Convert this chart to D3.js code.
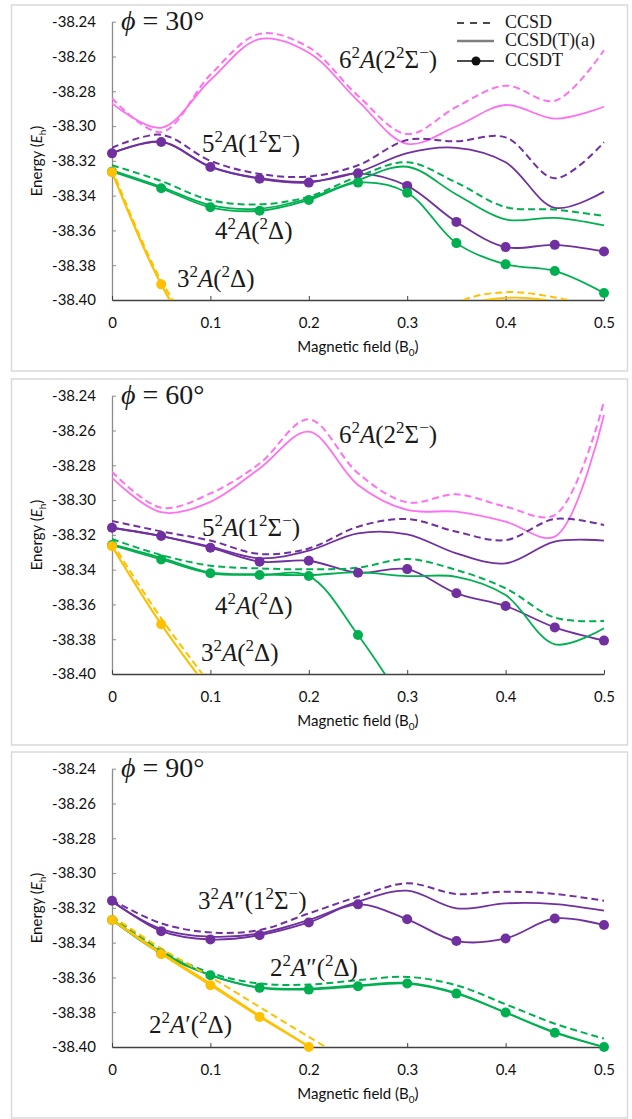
<!DOCTYPE html>
<html>
<head>
<meta charset="utf-8">
<script src="https://cdn.jsdelivr.net/npm/d3@7"></script>
<style>
  html, body { margin: 0; padding: 0; background: #fff; }
  svg { display: block; }
</style>
</head>
<body>
<div id="chart"></div>
<script>
// energy vs magnetic field, three field angles
const fields = [0, 0.05, 0.1, 0.15, 0.2, 0.25, 0.3, 0.35, 0.4, 0.45, 0.5];
const xTicks = [0, 0.1, 0.2, 0.3, 0.4, 0.5];
const yTicks = [-38.24, -38.26, -38.28, -38.30, -38.32, -38.34, -38.36, -38.38, -38.40];
const angles = ["30°", "60°", "90°"];
const methods = ["CCSD", "CCSD(T)(a)", "CCSDT"];

// phi = 30
const p30PinkCCSD   = [-38.2840, -38.3035, -38.2705, -38.2470, -38.2548, -38.2826, -38.3046, -38.2890, -38.2768, -38.2855, -38.2564];
const p30PinkT      = [-38.2870, -38.3010, -38.2735, -38.2500, -38.2578, -38.2855, -38.3102, -38.3001, -38.2879, -38.2957, -38.2889];
const p30PurpleCCSD = [-38.3125, -38.3050, -38.3200, -38.3275, -38.3290, -38.3225, -38.3080, -38.3088, -38.3065, -38.3300, -38.3093];
const p30PurpleT    = [-38.3155, -38.3090, -38.3233, -38.3300, -38.3320, -38.3265, -38.3155, -38.3125, -38.3208, -38.3470, -38.3377];
const p30PurpleTQ   = [-38.3157, -38.3092, -38.3235, -38.3303, -38.3325, -38.3272, -38.3344, -38.3551, -38.3696, -38.3683, -38.3721];
const p30GreenCCSD  = [-38.3225, -38.3316, -38.3426, -38.3450, -38.3406, -38.3290, -38.3208, -38.3325, -38.3466, -38.3480, -38.3517];
const p30GreenT     = [-38.3255, -38.3350, -38.3455, -38.3475, -38.3415, -38.3310, -38.3234, -38.3393, -38.3537, -38.3528, -38.3571];
const p30GreenTQ    = [-38.3262, -38.3358, -38.3467, -38.3487, -38.3425, -38.3325, -38.3383, -38.3673, -38.3795, -38.3833, -38.3960];
const p30GoldCCSD   = [-38.3245, -38.3890, -38.4300, null, null, null, -38.4300, -38.4020, -38.3955, -38.3985, -38.4050];
const p30GoldT      = [-38.3265, -38.3910, -38.4350, null, null, null, -38.4300, -38.4050, -38.3988, -38.4010, -38.4100];
const p30GoldTQ     = [-38.3265, -38.3910, -38.4400, null, null, null, null, null, null, null, null];

// phi = 60
const p60PinkCCSD   = [-38.2837, -38.3044, -38.2962, -38.2790, -38.2536, -38.2846, -38.3013, -38.2967, -38.3038, -38.3086, -38.2434];
const p60PinkT      = [-38.2872, -38.3070, -38.3010, -38.2818, -38.2607, -38.2913, -38.3057, -38.3067, -38.3124, -38.3210, -38.2511];
const p60PurpleCCSD = [-38.3120, -38.3180, -38.3233, -38.3310, -38.3278, -38.3153, -38.3109, -38.3182, -38.3230, -38.3109, -38.3143];
const p60PurpleT    = [-38.3159, -38.3207, -38.3268, -38.3335, -38.3291, -38.3191, -38.3197, -38.3306, -38.3364, -38.3239, -38.3233];
const p60PurpleTQ   = [-38.3159, -38.3207, -38.3274, -38.3354, -38.3349, -38.3418, -38.3397, -38.3536, -38.3609, -38.3732, -38.3808];
const p60GreenCCSD  = [-38.3224, -38.3316, -38.3377, -38.3393, -38.3398, -38.3389, -38.3339, -38.3402, -38.3507, -38.3676, -38.3695];
const p60GreenT     = [-38.3255, -38.3332, -38.3416, -38.3427, -38.3431, -38.3416, -38.3437, -38.3441, -38.3546, -38.3829, -38.3737];
const p60GreenTQ    = [-38.3258, -38.3341, -38.3421, -38.3431, -38.3437, -38.3776, -38.4200, null, null, null, null];
const p60GoldCCSD   = [-38.3245, -38.3680, -38.4060, null, null, null, null, null, null, null, null];
const p60GoldT      = [-38.3265, -38.3714, -38.4100, null, null, null, null, null, null, null, null];
const p60GoldTQ     = [-38.3265, -38.3714, -38.4100, null, null, null, null, null, null, null, null];

// phi = 90
const p90PurpleCCSD = [-38.3155, -38.3289, -38.3341, -38.3328, -38.3232, -38.3136, -38.3059, -38.3120, -38.3107, -38.3120, -38.3159];
const p90PurpleT    = [-38.3164, -38.3322, -38.3366, -38.3347, -38.3270, -38.3164, -38.3101, -38.3203, -38.3174, -38.3178, -38.3216];
const p90PurpleTQ   = [-38.3159, -38.3334, -38.3382, -38.3357, -38.3284, -38.3180, -38.3266, -38.3391, -38.3376, -38.3261, -38.3299];
const p90GreenCCSD  = [-38.3251, -38.3443, -38.3574, -38.3635, -38.3641, -38.3616, -38.3597, -38.3645, -38.3754, -38.3866, -38.3952];
const p90GreenT     = [-38.3266, -38.3453, -38.3587, -38.3658, -38.3664, -38.3645, -38.3631, -38.3689, -38.3802, -38.3914, -38.4000];
const p90GreenTQ    = [-38.3270, -38.3462, -38.3587, -38.3660, -38.3670, -38.3651, -38.3635, -38.3693, -38.3802, -38.3918, -38.4000];
const p90GoldCCSD   = [-38.3247, -38.3434, -38.3597, -38.3770, -38.3942, -38.4110, null, null, null, null, null];
const p90GoldT      = [-38.3265, -38.3458, -38.3635, -38.3820, -38.3995, -38.4180, null, null, null, null, null];
const p90GoldTQ     = [-38.3270, -38.3466, -38.3645, -38.3827, -38.4000, -38.4180, null, null, null, null, null];

// state labels, [text, "sup" | "it"] pieces
const labels30 = [
  [["6"], ["2", "sup"], ["A", "it"], ["(2"], ["2", "sup"], ["Σ"], ["−", "sup"], [")"]],
  [["5"], ["2", "sup"], ["A", "it"], ["(1"], ["2", "sup"], ["Σ"], ["−", "sup"], [")"]],
  [["4"], ["2", "sup"], ["A", "it"], ["("], ["2", "sup"], ["Δ"], [")"]],
  [["3"], ["2", "sup"], ["A", "it"], ["("], ["2", "sup"], ["Δ"], [")"]]
];
const labels90 = [
  [["3"], ["2", "sup"], ["A", "it"], ["″(1"], ["2", "sup"], ["Σ"], ["−", "sup"], [")"]],
  [["2"], ["2", "sup"], ["A", "it"], ["″("], ["2", "sup"], ["Δ"], [")"]],
  [["2"], ["2", "sup"], ["A", "it"], ["′("], ["2", "sup"], ["Δ"], [")"]]
];

const PINK = "#FF70F0", PURPLE = "#7030A0", GREEN = "#00B050", GOLD = "#FFC000";
const SANS = "Lato, 'Open Sans', sans-serif";
const SERIF = "'Liberation Serif', 'DejaVu Serif', serif";

const width = 632, height = 1119;
const panelTops = [5, 379, 752];
const panelH = 366;

const panels = [
  {
    angle: angles[0],
    series: [
      [PINK, p30PinkCCSD, p30PinkT, null],
      [PURPLE, p30PurpleCCSD, p30PurpleT, p30PurpleTQ],
      [GREEN, p30GreenCCSD, p30GreenT, p30GreenTQ],
      [GOLD, p30GoldCCSD, p30GoldT, p30GoldTQ]
    ],
    labels: [[labels30[0], 339, 63], [labels30[1], 202, 147], [labels30[2], 215, 234], [labels30[3], 177, 282]],
    legend: true
  },
  {
    angle: angles[1],
    series: [
      [PINK, p60PinkCCSD, p60PinkT, null],
      [PURPLE, p60PurpleCCSD, p60PurpleT, p60PurpleTQ],
      [GREEN, p60GreenCCSD, p60GreenT, p60GreenTQ],
      [GOLD, p60GoldCCSD, p60GoldT, p60GoldTQ]
    ],
    labels: [[labels30[0], 339, 64], [labels30[1], 202, 157], [labels30[2], 215, 235], [labels30[3], 201, 282]],
    legend: false
  },
  {
    angle: angles[2],
    series: [
      [PURPLE, p90PurpleCCSD, p90PurpleT, p90PurpleTQ],
      [GREEN, p90GreenCCSD, p90GreenT, p90GreenTQ],
      [GOLD, p90GoldCCSD, p90GoldT, p90GoldTQ]
    ],
    labels: [[labels90[0], 198, 157], [labels90[1], 270, 224], [labels90[2], 149, 281]],
    legend: false
  }
];

const svg = d3.select("#chart").append("svg")
  .attr("width", width)
  .attr("height", height);

function richText(g, parts, x, y, size, supSize, supShift) {
  const t = g.append("text")
    .attr("x", x).attr("y", y)
    .attr("font-family", SERIF)
    .attr("font-size", size)
    .attr("fill", "#1a1a1a")
    .attr("xml:space", "preserve");
  let shift = 0;
  parts.forEach(p => {
    const s = t.append("tspan").text(p[0]);
    const want = p[1] === "sup" ? -supShift : 0;
    s.attr("dy", want - shift);
    shift = want;
    if (p[1] === "sup") s.attr("font-size", supSize);
    if (p[1] === "it") s.attr("font-style", "italic");
  });
  return t;
}

panels.forEach((panel, i) => {
  const top = panelTops[i];
  const g = svg.append("g");

  g.append("rect")
    .attr("x", 11.5).attr("y", top)
    .attr("width", 616).attr("height", panelH)
    .attr("fill", "#fff")
    .attr("stroke", "#d9d9d9")
    .attr("stroke-width", 1.5);

  const x = d3.scaleLinear().domain([0, 0.5]).range([112, 604]);
  const y = d3.scaleLinear().domain([-38.40, -38.24]).range([top + 295, top + 16.7]);

  // axes
  const yAxis = g.append("g")
    .attr("transform", `translate(${x(0)},0)`)
    .call(d3.axisLeft(y).tickValues(yTicks).tickFormat(d => d.toFixed(2))
      .tickSizeInner(-4).tickSizeOuter(0).tickPadding(16));
  yAxis.select(".domain").attr("stroke", "#8c8c8c").attr("stroke-width", 1.3);
  yAxis.selectAll(".tick line").attr("stroke", "#8c8c8c");
  yAxis.selectAll("text").attr("font-family", SANS).attr("font-size", 15).attr("fill", "#111");

  const xAxis = g.append("g")
    .attr("transform", `translate(0,${y(-38.40)})`)
    .call(d3.axisBottom(x).tickValues(xTicks).tickFormat(d => d === 0 ? "0" : String(d))
      .tickSizeInner(-4).tickSizeOuter(0).tickPadding(17));
  xAxis.select(".domain").attr("stroke", "#404040").attr("stroke-width", 1.3);
  xAxis.selectAll(".tick line").attr("stroke", "#404040");
  xAxis.selectAll("text").attr("font-family", SANS).attr("font-size", 15).attr("fill", "#111");

  // axis titles
  const yt = g.append("text")
    .attr("transform", `translate(42,${top + 156}) rotate(-90)`)
    .attr("text-anchor", "middle")
    .attr("font-family", SANS).attr("font-size", 15).attr("fill", "#111");
  yt.append("tspan").text("Energy (");
  yt.append("tspan").text("E").attr("font-style", "italic");
  yt.append("tspan").text("h").attr("font-size", 10).attr("dy", 4);
  yt.append("tspan").text(")").attr("dy", -4);

  const xt = g.append("text")
    .attr("x", 358).attr("y", top + 347)
    .attr("text-anchor", "middle")
    .attr("font-family", SANS).attr("font-size", 15).attr("fill", "#111");
  xt.append("tspan").text("Magnetic field (B");
  xt.append("tspan").text("0").attr("font-size", 10).attr("dy", 4);
  xt.append("tspan").text(")").attr("dy", -4);

  // clip for curves
  const clipId = `clip${i}`;
  g.append("clipPath").attr("id", clipId)
    .append("rect")
    .attr("x", x(0)).attr("y", y(-38.24) - 2)
    .attr("width", x(0.5) - x(0) + 1)
    .attr("height", y(-38.40) - y(-38.24) + 2);

  const line = d3.line()
    .defined(d => d.v != null)
    .x(d => x(d.f))
    .y(d => y(d.v))
    .curve(d3.curveCatmullRom.alpha(0.5));

  const toPts = vals => fields.map((f, k) => ({ f: f, v: vals[k] }));

  const curves = g.append("g").attr("clip-path", `url(#${clipId})`);
  const dots = g.append("g");

  panel.series.forEach(s => {
    const [color, ccsd, ccsdT, ccsdtq] = s;
    curves.append("path")
      .attr("d", line(toPts(ccsd)))
      .attr("fill", "none")
      .attr("stroke", color)
      .attr("stroke-width", 2)
      .attr("stroke-dasharray", "7,4");
    curves.append("path")
      .attr("d", line(toPts(ccsdT)))
      .attr("fill", "none")
      .attr("stroke", color)
      .attr("stroke-width", 1.8);
    if (ccsdtq) {
      curves.append("path")
        .attr("d", line(toPts(ccsdtq)))
        .attr("fill", "none")
        .attr("stroke", color)
        .attr("stroke-width", 1.8);
      dots.selectAll(null)
        .data(toPts(ccsdtq).filter(d => d.v != null && d.v >= -38.4015 && d.v <= -38.24))
        .enter()
        .append("circle")
        .attr("cx", d => x(d.f))
        .attr("cy", d => y(d.v))
        .attr("r", 5)
        .attr("fill", color);
    }
  });

  // title
  richText(g, [["ϕ", "it"], [" = "], [panel.angle]], 121, top + 25, 28, 18, 0);

  // state labels
  panel.labels.forEach(l => richText(g, l[0], l[1], top + l[2], 25, 17, 10));

  // legend
  if (panel.legend) {
    const lg = g.append("g").attr("transform", `translate(457,${top})`);
    const rows = [18, 36, 56];
    lg.append("line").attr("x1", 0).attr("x2", 37).attr("y1", rows[0]).attr("y2", rows[0])
      .attr("stroke", "#111").attr("stroke-width", 1.4).attr("stroke-dasharray", "7,6");
    lg.append("line").attr("x1", 0).attr("x2", 37).attr("y1", rows[1]).attr("y2", rows[1])
      .attr("stroke", "#7f7f7f").attr("stroke-width", 2.6);
    lg.append("line").attr("x1", 0).attr("x2", 37).attr("y1", rows[2]).attr("y2", rows[2])
      .attr("stroke", "#111").attr("stroke-width", 1.4);
    lg.append("circle").attr("cx", 19).attr("cy", rows[2]).attr("r", 4.5).attr("fill", "#111");
    methods.forEach((m, k) => {
      lg.append("text")
        .attr("x", 48).attr("y", rows[k] + 5)
        .attr("font-family", SERIF).attr("font-size", 18).attr("fill", "#1a1a1a")
        .text(m);
    });
  }
});
</script>
</body>
</html>
